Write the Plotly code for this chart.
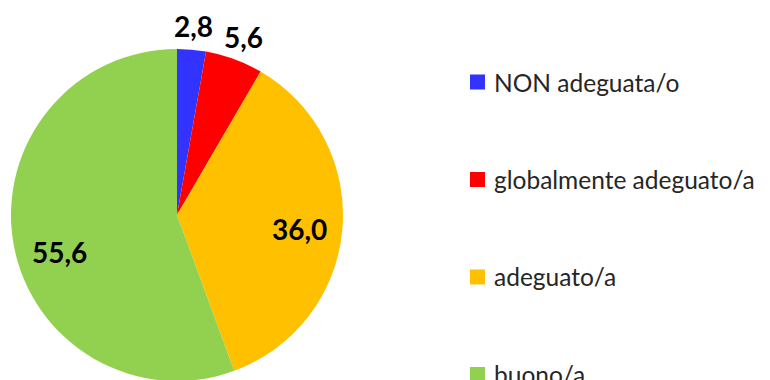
import math
import plotly.graph_objects as go

categories = ["NON adeguata/o", "globalmente adeguato/a", "adeguato/a", "buono/a"]
values = [2.8, 5.6, 36.0, 55.6]
colors = ["#3333FF", "#FF0000", "#FFC000", "#92D050"]

# value-label placement: radius as a fraction of the pie radius, and a small
# angular nudge (degrees) away from the slice's mid-angle
label_radius = [1.145, 1.145, 0.745, 0.74]
label_shift = [0.0, 0.4, 1.5, -7.5]

W, H = 770, 390
cx, cy, R = 177, 215, 166  # pie centre and radius in pixels

fig = go.Figure(go.Pie(
    labels=categories,
    values=values,
    textinfo="none",
    sort=False,
    direction="clockwise",
    rotation=0,
    marker=dict(colors=colors, line=dict(width=0)),
    showlegend=False,
    hoverinfo="label+value",
    domain=dict(x=[(cx - R) / W, (cx + R) / W], y=[(H - cy - R) / H, (H - cy + R) / H]),
))

# value labels, positioned from each slice's angle
total = sum(values)
cum = 0.0
for v, rf, sh in zip(values, label_radius, label_shift):
    mid = math.radians((cum + v / 2) / total * 360 + sh)
    cum += v
    px = cx + rf * R * math.sin(mid)
    py = cy - rf * R * math.cos(mid)
    fig.add_annotation(text=f"{v:.1f}".replace(".", ","), xref="paper", yref="paper",
                       x=px / W, y=(H - py) / H, xanchor="center", yanchor="middle",
                       showarrow=False,
                       font=dict(family="Lato", size=28, color="black", weight="bold"))

# hand-built legend with wide spacing between entries
legend_x0, legend_y0, gap, sq = 470, 82, 97.5, 15
for i, (name, col) in enumerate(zip(categories, colors)):
    yc = legend_y0 + i * gap
    fig.add_shape(type="rect", xref="paper", yref="paper",
                  x0=legend_x0 / W, x1=(legend_x0 + sq) / W,
                  y0=(H - yc - sq / 2) / H, y1=(H - yc + sq / 2) / H,
                  fillcolor=col, line=dict(width=0))
    fig.add_annotation(text=name, xref="paper", yref="paper",
                       x=(legend_x0 + sq + 7) / W, y=(H - yc) / H,
                       xanchor="left", yanchor="middle", showarrow=False,
                       font=dict(family="Lato", size=24.5, color="#262626"))

fig.update_layout(width=W, height=H, margin=dict(l=0, r=0, t=0, b=0),
                  paper_bgcolor="white", plot_bgcolor="white")
fig.write_html("out.html")
